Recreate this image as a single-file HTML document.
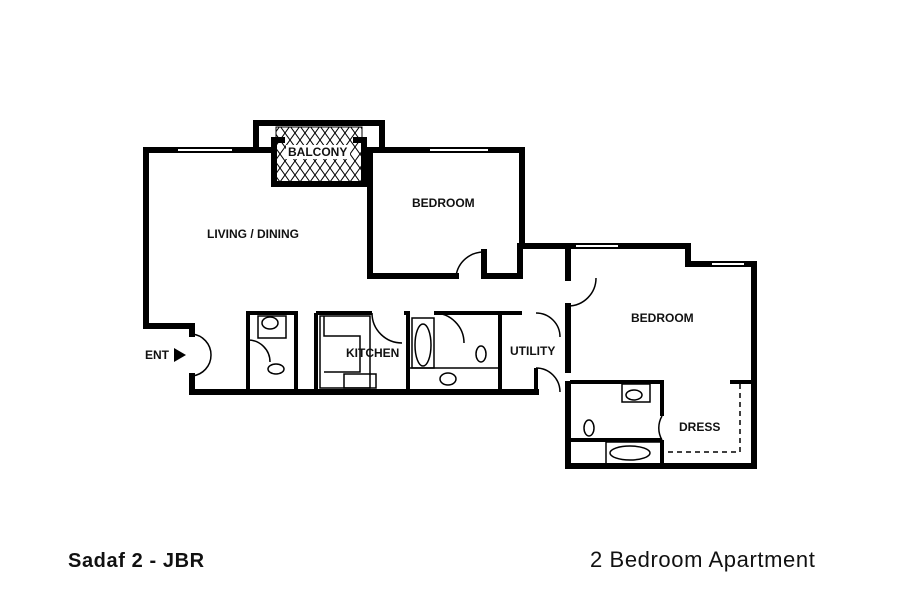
<!DOCTYPE html>
<html><head><meta charset="utf-8"><style>
body{margin:0;background:#fff;width:898px;height:600px;overflow:hidden;font-family:"Liberation Sans",sans-serif}
svg{position:absolute;left:0;top:0}
</style></head><body>
<svg width="898" height="600" viewBox="0 0 898 600">
<defs><pattern id="h" width="10" height="14" patternUnits="userSpaceOnUse"><path d="M0 0L10 14M10 0L0 14" stroke="#000" stroke-width="1"/></pattern></defs>
<g fill="none" stroke="#000" stroke-width="6" stroke-linecap="square">
<polyline points="274,150 146,150 146,326 192,326 192,334"/>
<polyline points="192,376 192,392 536,392"/>
<polyline points="274,150 256,150 256,123 382,123 382,150 368,150"/>
<polyline points="274,184 274,140 282,140"/>
<polyline points="274,184 364,184 364,140 356,140"/>
<polyline points="368,150 522,150 522,246 688,246 688,264 754,264 754,466 568,466 568,384"/>
<polyline points="370,150 370,276 456,276"/>
<polyline points="484,252 484,276 520,276 520,246"/>
<polyline points="568,246 568,278"/>
<polyline points="568,306 568,370"/>
</g>
<g fill="none" stroke="#000" stroke-width="4">
<polyline points="248,392 248,313 296,313 296,392"/>
<line x1="316" y1="313" x2="316" y2="392"/>
<polyline points="316,313 372,313"/>
<polyline points="404,313 408,313 408,392"/>
<polyline points="434,313 500,313 500,392"/>
<line x1="500" y1="313" x2="522" y2="313"/>
<line x1="536" y1="392" x2="536" y2="368"/>
<polyline points="570,382 662,382 662,416"/>
<polyline points="662,440 662,466"/>
<line x1="730" y1="382" x2="754" y2="382"/>
<line x1="568" y1="440" x2="662" y2="440"/>
</g>
<g fill="none" stroke="#000" stroke-width="1.5">
<rect x="320" y="316" width="50" height="72"/>
<polyline points="324,316 324,336 360,336 360,372 324,372"/>
<rect x="258" y="316" width="28" height="22"/><ellipse cx="270" cy="323" rx="8" ry="6"/>
<ellipse cx="276" cy="369" rx="8" ry="5"/>
<rect x="412" y="318" width="22" height="50"/><ellipse cx="423" cy="345" rx="8" ry="21"/>
<ellipse cx="481" cy="354" rx="5" ry="8"/>
<rect x="408" y="368" width="92" height="22"/><ellipse cx="448" cy="379" rx="8" ry="6"/>
<rect x="344" y="374" width="32" height="14"/>
<rect x="622" y="384" width="28" height="18"/><ellipse cx="634" cy="395" rx="8" ry="5"/>
<ellipse cx="589" cy="428" rx="5" ry="8"/>
<rect x="606" y="442" width="56" height="22"/><ellipse cx="630" cy="453" rx="20" ry="7"/>
<path d="M192 334 A21 21 0 0 1 211 355 M192 376 A21 21 0 0 0 211 355"/>
<path d="M456 276 A28 28 0 0 1 484 252"/>
<path d="M596 278 A28 28 0 0 1 568 306"/>
<path d="M536 368 A24 24 0 0 1 560 392"/>
<path d="M536 313 A24 24 0 0 1 560 337"/>
<path d="M662 416 A24 24 0 0 0 662 440"/>
<path d="M248 340 A22 22 0 0 1 270 362"/>
<path d="M372 313 A30 30 0 0 0 402 343"/>
<path d="M434 313 A30 30 0 0 1 464 343"/>
<polyline points="740,384 740,452 662,452" stroke-dasharray="5,4"/>
</g>
<rect x="276" y="127" width="86" height="56" fill="url(#h)" stroke="#000" stroke-width="1"/>
<rect x="286" y="145" width="64" height="14" fill="#fff"/>
<g stroke="#fff" stroke-width="2"><line x1="178" y1="150" x2="232" y2="150"/><line x1="430" y1="150" x2="488" y2="150"/><line x1="576" y1="246" x2="618" y2="246"/><line x1="712" y1="264" x2="744" y2="264"/></g>
<polygon points="174,348 186,355 174,362" fill="#000"/>
<g font-weight="bold" font-size="12" fill="#111" font-family="Liberation Sans,sans-serif">
<text x="288" y="156">BALCONY</text>
<text x="412" y="207">BEDROOM</text>
<text x="207" y="238">LIVING / DINING</text>
<text x="631" y="322">BEDROOM</text>
<text x="145" y="359">ENT</text>
<text x="346" y="357">KITCHEN</text>
<text x="510" y="355">UTILITY</text>
<text x="679" y="431">DRESS</text>
</g>
<text x="68" y="567" font-size="20" font-weight="bold" fill="#111" letter-spacing="0.6">Sadaf 2 - JBR</text>
<text x="590" y="567" font-size="22" fill="#111" letter-spacing="0.6">2 Bedroom Apartment</text>
</svg>
</body></html>
